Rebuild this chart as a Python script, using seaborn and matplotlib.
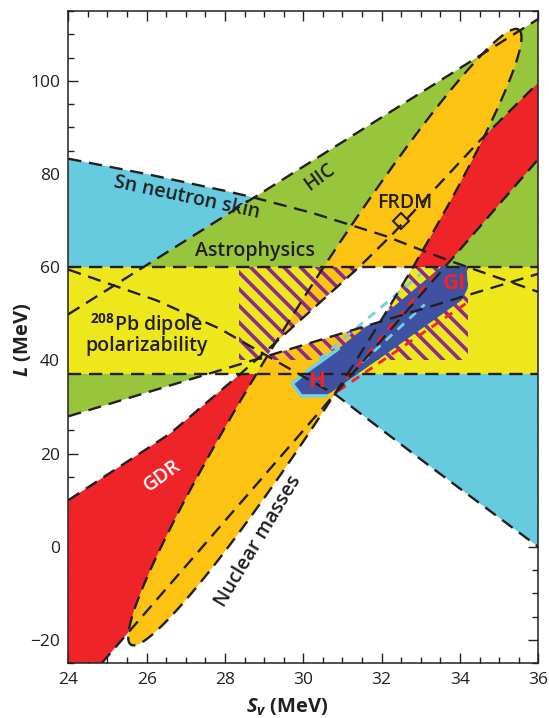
import numpy as np
import matplotlib
matplotlib.use("Agg")
import matplotlib.pyplot as plt
from matplotlib.patches import Polygon, Rectangle
from matplotlib.ticker import MultipleLocator
import seaborn as sns

# ---- axis ranges -------------------------------------------------------
S_LIM = (24.0, 36.0)
L_LIM = (-25.0, 115.0)

# ---- constraint boundaries (S_v, L in MeV) -----------------------------
# Sn neutron skin band
sn_upper_S = [24.0, 26.0, 28.0, 28.72, 30.25, 32.1, 33.1, 33.8, 35.4, 36.0]
sn_upper_L = [83.3, 80.0, 76.4, 75.0, 71.6, 66.7, 63.4, 61.2, 56.5, 54.7]
sn_lower_S = [24.0, 26.25, 27.87, 29.57, 30.85, 33.23, 36.0]
sn_lower_L = [59.5, 52.9, 46.8, 38.6, 32.5, 17.3, 0.0]

# heavy-ion collisions (HIC)
hic_S = [24.0, 36.0]
hic_lower_L = [28.0, 58.6]
hic_upper_L = [49.9, 113.3]

# giant dipole resonance (GDR)
gdr_ul_S = [24.0, 26.6, 28.38, 28.93, 31.42, 32.29, 34.5, 36.0]
gdr_ul_L = [10.0, 24.3, 37.0, 41.1, 60.0, 67.2, 87.1, 99.6]
gdr_lr_S = [24.85, 36.0]
gdr_lr_L = [-25.0, 83.2]

# nuclear masses: confidence ellipse (centre, semi-axis vectors)
mass_center = (30.55, 45.0)
mass_major = (4.95, 66.0)
mass_minor = (0.84, -4.46)

# 208Pb dipole polarizability band
pb_L = (37.0, 60.0)

# hatched box
box_S = (28.36, 34.2)
box_L = (40.0, 60.0)

# neutron matter (H / GI) region
nm_S = [29.72, 30.12, 30.89, 31.5, 32.3, 33.55, 34.17, 34.2, 34.04, 31.95, 30.72, 30.55, 29.95]
nm_L = [35.0, 37.8, 42.5, 46.6, 51.5, 60.3, 60.3, 55.5, 52.9, 40.4, 33.2, 32.4, 32.4]
h_edge_S = [30.6, 29.95, 29.72, 30.12, 30.9]
h_edge_L = [32.4, 32.4, 35.0, 37.8, 42.5]
h_dash1_S = [30.4, 33.0]
h_dash1_L = [40.2, 58.6]
h_dash2_S = [31.5, 33.1]
h_dash2_L = [39.6, 52.0]
gi_dash1_S = [31.1, 33.45]
gi_dash1_L = [36.0, 59.5]
gi_dash2_S = [30.9, 34.15]
gi_dash2_L = [33.5, 52.2]

# FRDM point
frdm_S = [32.5]
frdm_L = [70.0]

# ---- colours -----------------------------------------------------------
C_CYAN = "#67cbe0"
C_GREEN = "#97c63d"
C_RED = "#ee2428"
C_ORANGE = "#fdc312"
C_YELLOW = "#ede71b"
C_PURPLE = "#8b2b92"
C_BLUE = "#3f51a1"
C_INK = "#231f20"

sns.set_theme(style="ticks")
plt.rcParams["font.family"] = ["Open Sans", "DejaVu Sans"]
plt.rcParams["mathtext.fontset"] = "custom"
plt.rcParams["mathtext.rm"] = "Open Sans"
plt.rcParams["mathtext.bf"] = "Open Sans:bold"
plt.rcParams["mathtext.bfit"] = "Open Sans:italic:bold"
plt.rcParams["hatch.linewidth"] = 2.6
plt.rcParams["hatch.color"] = C_PURPLE

fig = plt.figure(figsize=(5.49, 7.18), dpi=100)
ax = fig.add_axes([0.1244, 0.0762, 0.8561, 0.9085])
ax.set_xlim(*S_LIM)
ax.set_ylim(*L_LIM)

# ---- filled regions ----------------------------------------------------
sn_poly = list(zip(sn_upper_S, sn_upper_L)) + list(zip(sn_lower_S[::-1], sn_lower_L[::-1]))
ax.add_patch(Polygon(sn_poly, closed=True, fc=C_CYAN, ec="none", zorder=1))

hic_poly = list(zip(hic_S, hic_lower_L)) + list(zip(hic_S[::-1], hic_upper_L[::-1]))
ax.add_patch(Polygon(hic_poly, closed=True, fc=C_GREEN, ec="none", zorder=2))

gdr_poly = list(zip(gdr_ul_S, gdr_ul_L)) + list(zip(gdr_lr_S[::-1], gdr_lr_L[::-1])) + [(S_LIM[0], L_LIM[0])]
ax.add_patch(Polygon(gdr_poly, closed=True, fc=C_RED, ec="none", zorder=3))

ax.axhspan(pb_L[0], pb_L[1], fc=C_YELLOW, ec="none", zorder=4)

t = np.linspace(0, 2 * np.pi, 721)
ell_S = mass_center[0] + np.cos(t) * mass_major[0] + np.sin(t) * mass_minor[0]
ell_L = mass_center[1] + np.cos(t) * mass_major[1] + np.sin(t) * mass_minor[1]
ellipse = Polygon(np.column_stack([ell_S, ell_L]), closed=True, fc=C_ORANGE, ec="none", zorder=5)
ax.add_patch(ellipse)

ax.add_patch(Rectangle((box_S[0], box_L[0]), box_S[1] - box_S[0], box_L[1] - box_L[0],
                       fc="none", ec=C_PURPLE, lw=0, hatch="\\\\", zorder=6))

ax.add_patch(Polygon(list(zip(nm_S, nm_L)), closed=True, fc=C_BLUE, ec="none", zorder=7))

# overlap of all constraints: above HIC lower edge, below the band top,
# inside the GDR band, clipped to the mass ellipse
ul_in = [(s, l) for s, l in zip(gdr_ul_S, gdr_ul_L) if pb_L[0] < l <= pb_L[1]]
s0 = ul_in[0][0]
white_poly = [(s0, np.interp(s0, hic_S, hic_lower_L)),
              (hic_S[-1], hic_lower_L[-1]), (hic_S[-1], pb_L[1])] + ul_in[::-1]
wp = Polygon(white_poly, closed=True, fc="white", ec="none", zorder=8)
ax.add_patch(wp)
wp.set_clip_path(ellipse)

# ---- region outlines ---------------------------------------------------
ax.plot(h_edge_S, h_edge_L, color="#72d0e6", lw=2.4, solid_joinstyle="round", zorder=9)
dash_c = dict(lw=2.0, linestyle=(0, (3.2, 2.6)), zorder=9)
for xs, ys in [(h_dash1_S, h_dash1_L), (h_dash2_S, h_dash2_L)]:
    sns.lineplot(x=xs, y=ys, sort=False, estimator=None, color="#72d0e6", ax=ax, **dash_c)
for xs, ys in [(gi_dash1_S, gi_dash1_L), (gi_dash2_S, gi_dash2_L)]:
    sns.lineplot(x=xs, y=ys, sort=False, estimator=None, color=C_RED, ax=ax, **dash_c)

dash_k = dict(color=C_INK, lw=1.7, linestyle=(0, (5.6, 3.3)), zorder=10)
curves = [
    (sn_upper_S, sn_upper_L), (sn_lower_S, sn_lower_L),
    (hic_S, hic_lower_L), (hic_S, hic_upper_L),
    (gdr_ul_S, gdr_ul_L), (gdr_lr_S, gdr_lr_L),
    (list(ell_S), list(ell_L)),
    (list(S_LIM), [pb_L[0], pb_L[0]]), (list(S_LIM), [pb_L[1], pb_L[1]]),
]
for xs, ys in curves:
    sns.lineplot(x=xs, y=ys, sort=False, estimator=None, ax=ax, **dash_k)

ax.plot(frdm_S, frdm_L, marker="D", ms=8, mfc="none", mec=C_INK, mew=1.5, ls="none", zorder=11)

# ---- labels --------------------------------------------------------------
lab = dict(fontsize=14, fontweight="semibold", color=C_INK, ha="center", va="center",
           rotation_mode="anchor", zorder=12)
ax.text(27.02, 75.0, "Sn neutron skin", rotation=-12, **lab)
ax.text(30.42, 79.4, "HIC", rotation=36, **lab)
ax.text(32.59, 73.8, "FRDM", **lab)
ax.text(28.76, 63.4, "Astrophysics", **lab)
ax.text(26.0, 47.7, r"$^{\mathbf{208}}$Pb dipole", **lab)
ax.text(26.0, 43.0, "polarizability", **lab)
ax.text(26.41, 15.2, "GDR", rotation=36, **{**lab, "color": "white"})
ax.text(28.85, 1.2, "Nuclear masses", rotation=59, **lab)
ax.text(30.37, 35.5, "H", **{**lab, "color": C_RED, "fontsize": 16, "fontweight": "bold"})
ax.text(33.87, 56.5, "GI", **{**lab, "color": C_RED, "fontsize": 16, "fontweight": "bold"})

# ---- axes ----------------------------------------------------------------
ax.xaxis.set_major_locator(MultipleLocator(2))
ax.xaxis.set_minor_locator(MultipleLocator(0.5))
ax.yaxis.set_major_locator(MultipleLocator(20))
ax.yaxis.set_minor_locator(MultipleLocator(5))
ax.tick_params(which="both", direction="in", top=True, right=True, width=1.0,
               color=C_INK, labelcolor=C_INK, labelsize=12.5)
ax.tick_params(which="major", length=7.5, pad=6)
ax.tick_params(which="minor", length=4.0)
for sp in ax.spines.values():
    sp.set_linewidth(1.1)
    sp.set_color(C_INK)
    sp.set_zorder(20)

ax.set_xlabel(r"$\mathbfit{S}_{\mathbfit{v}}$ (MeV)", fontsize=14.5, fontweight="bold", color=C_INK)
ax.set_ylabel(r"$\mathbfit{L}$ (MeV)", fontsize=14.5, fontweight="bold", color=C_INK)
ax.xaxis.label.set_va("center")
ax.yaxis.label.set_va("center")
ax.xaxis.set_label_coords(0.466, -0.068)
ax.yaxis.set_label_coords(-0.098, 0.496)

fig.savefig("out.png", dpi=100)
